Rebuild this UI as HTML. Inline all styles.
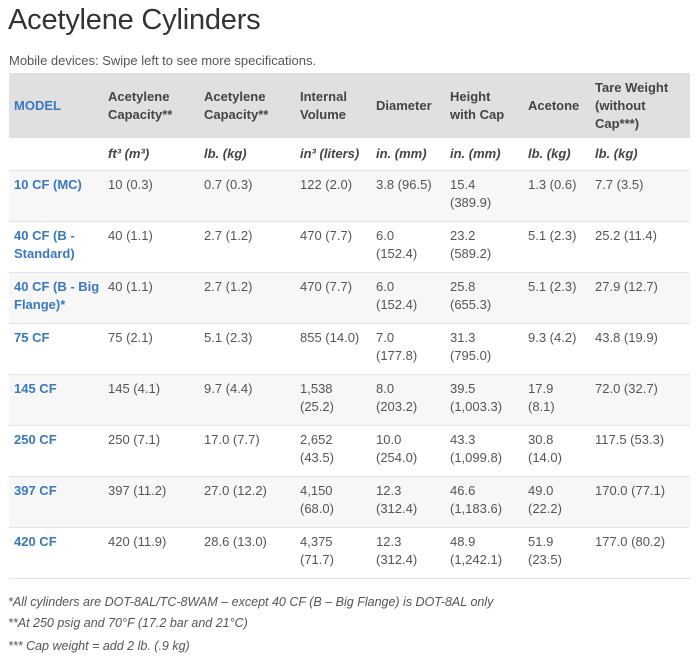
<!DOCTYPE html>
<html><head><meta charset="utf-8"><style>
body{margin:0;width:700px;height:660px;background:#fff;font-family:"Liberation Sans",sans-serif;color:#444;overflow:hidden;position:relative}
h1{position:absolute;left:8px;top:4px;margin:0;font-weight:normal;font-size:29px;color:#333;letter-spacing:-0.2px}
.sub{position:absolute;left:9px;top:53px;font-size:13px;color:#555}
table{position:absolute;left:9px;top:73px;width:681px;border-collapse:collapse;font-size:13px;table-layout:fixed}
td,th{padding:0 0 0 5px;line-height:18px;text-align:left;vertical-align:top;white-space:nowrap}
th{background:#e0e0e0;height:65px;vertical-align:middle;font-weight:bold;color:#444}
th.m{color:#3a78c0}
tr.u td{height:32px;vertical-align:middle;font-weight:bold;font-style:italic;border-bottom:1px solid #e3e3e3}
tr.r td{padding-top:5px;height:45px;border-bottom:1px solid #e3e3e3;color:#555}
tr.o td{background:#f7f7f7}
tr.r td.m{color:#3a78c0;font-weight:bold}
.f{position:absolute;left:8px;font-size:12.5px;font-style:italic;color:#555}
</style></head><body>
<h1>Acetylene Cylinders</h1>
<div class="sub">Mobile devices: Swipe left to see more specifications.</div>
<table>
<colgroup><col style="width:94px"><col style="width:96px"><col style="width:96px"><col style="width:76px"><col style="width:74px"><col style="width:78px"><col style="width:67px"><col></colgroup>
<tr><th class="m">MODEL</th><th>Acetylene<br>Capacity**</th><th>Acetylene<br>Capacity**</th><th>Internal<br>Volume</th><th>Diameter</th><th>Height<br>with Cap</th><th>Acetone</th><th>Tare Weight<br>(without<br>Cap***)</th></tr>
<tr class="u"><td></td><td>ft³ (m³)</td><td>lb. (kg)</td><td>in³ (liters)</td><td>in. (mm)</td><td>in. (mm)</td><td>lb. (kg)</td><td>lb. (kg)</td></tr>
<tr class="r o"><td class="m">10 CF (MC)</td><td>10 (0.3)</td><td>0.7 (0.3)</td><td>122 (2.0)</td><td>3.8 (96.5)</td><td>15.4<br>(389.9)</td><td>1.3 (0.6)</td><td>7.7 (3.5)</td></tr>
<tr class="r"><td class="m">40 CF (B -<br>Standard)</td><td>40 (1.1)</td><td>2.7 (1.2)</td><td>470 (7.7)</td><td>6.0<br>(152.4)</td><td>23.2<br>(589.2)</td><td>5.1 (2.3)</td><td>25.2 (11.4)</td></tr>
<tr class="r o"><td class="m">40 CF (B - Big<br>Flange)*</td><td>40 (1.1)</td><td>2.7 (1.2)</td><td>470 (7.7)</td><td>6.0<br>(152.4)</td><td>25.8<br>(655.3)</td><td>5.1 (2.3)</td><td>27.9 (12.7)</td></tr>
<tr class="r"><td class="m">75 CF</td><td>75 (2.1)</td><td>5.1 (2.3)</td><td>855 (14.0)</td><td>7.0<br>(177.8)</td><td>31.3<br>(795.0)</td><td>9.3 (4.2)</td><td>43.8 (19.9)</td></tr>
<tr class="r o"><td class="m">145 CF</td><td>145 (4.1)</td><td>9.7 (4.4)</td><td>1,538<br>(25.2)</td><td>8.0<br>(203.2)</td><td>39.5<br>(1,003.3)</td><td>17.9<br>(8.1)</td><td>72.0 (32.7)</td></tr>
<tr class="r"><td class="m">250 CF</td><td>250 (7.1)</td><td>17.0 (7.7)</td><td>2,652<br>(43.5)</td><td>10.0<br>(254.0)</td><td>43.3<br>(1,099.8)</td><td>30.8<br>(14.0)</td><td>117.5 (53.3)</td></tr>
<tr class="r o"><td class="m">397 CF</td><td>397 (11.2)</td><td>27.0 (12.2)</td><td>4,150<br>(68.0)</td><td>12.3<br>(312.4)</td><td>46.6<br>(1,183.6)</td><td>49.0<br>(22.2)</td><td>170.0 (77.1)</td></tr>
<tr class="r"><td class="m">420 CF</td><td>420 (11.9)</td><td>28.6 (13.0)</td><td>4,375<br>(71.7)</td><td>12.3<br>(312.4)</td><td>48.9<br>(1,242.1)</td><td>51.9<br>(23.5)</td><td>177.0 (80.2)</td></tr>
</table>
<div class="f" style="top:595px">*All cylinders are DOT-8AL/TC-8WAM – except 40 CF (B – Big Flange) is DOT-8AL only</div>
<div class="f" style="top:616px">**At 250 psig and 70°F (17.2 bar and 21°C)</div>
<div class="f" style="top:639px">*** Cap weight = add 2 lb. (.9 kg)</div>
</body></html>
